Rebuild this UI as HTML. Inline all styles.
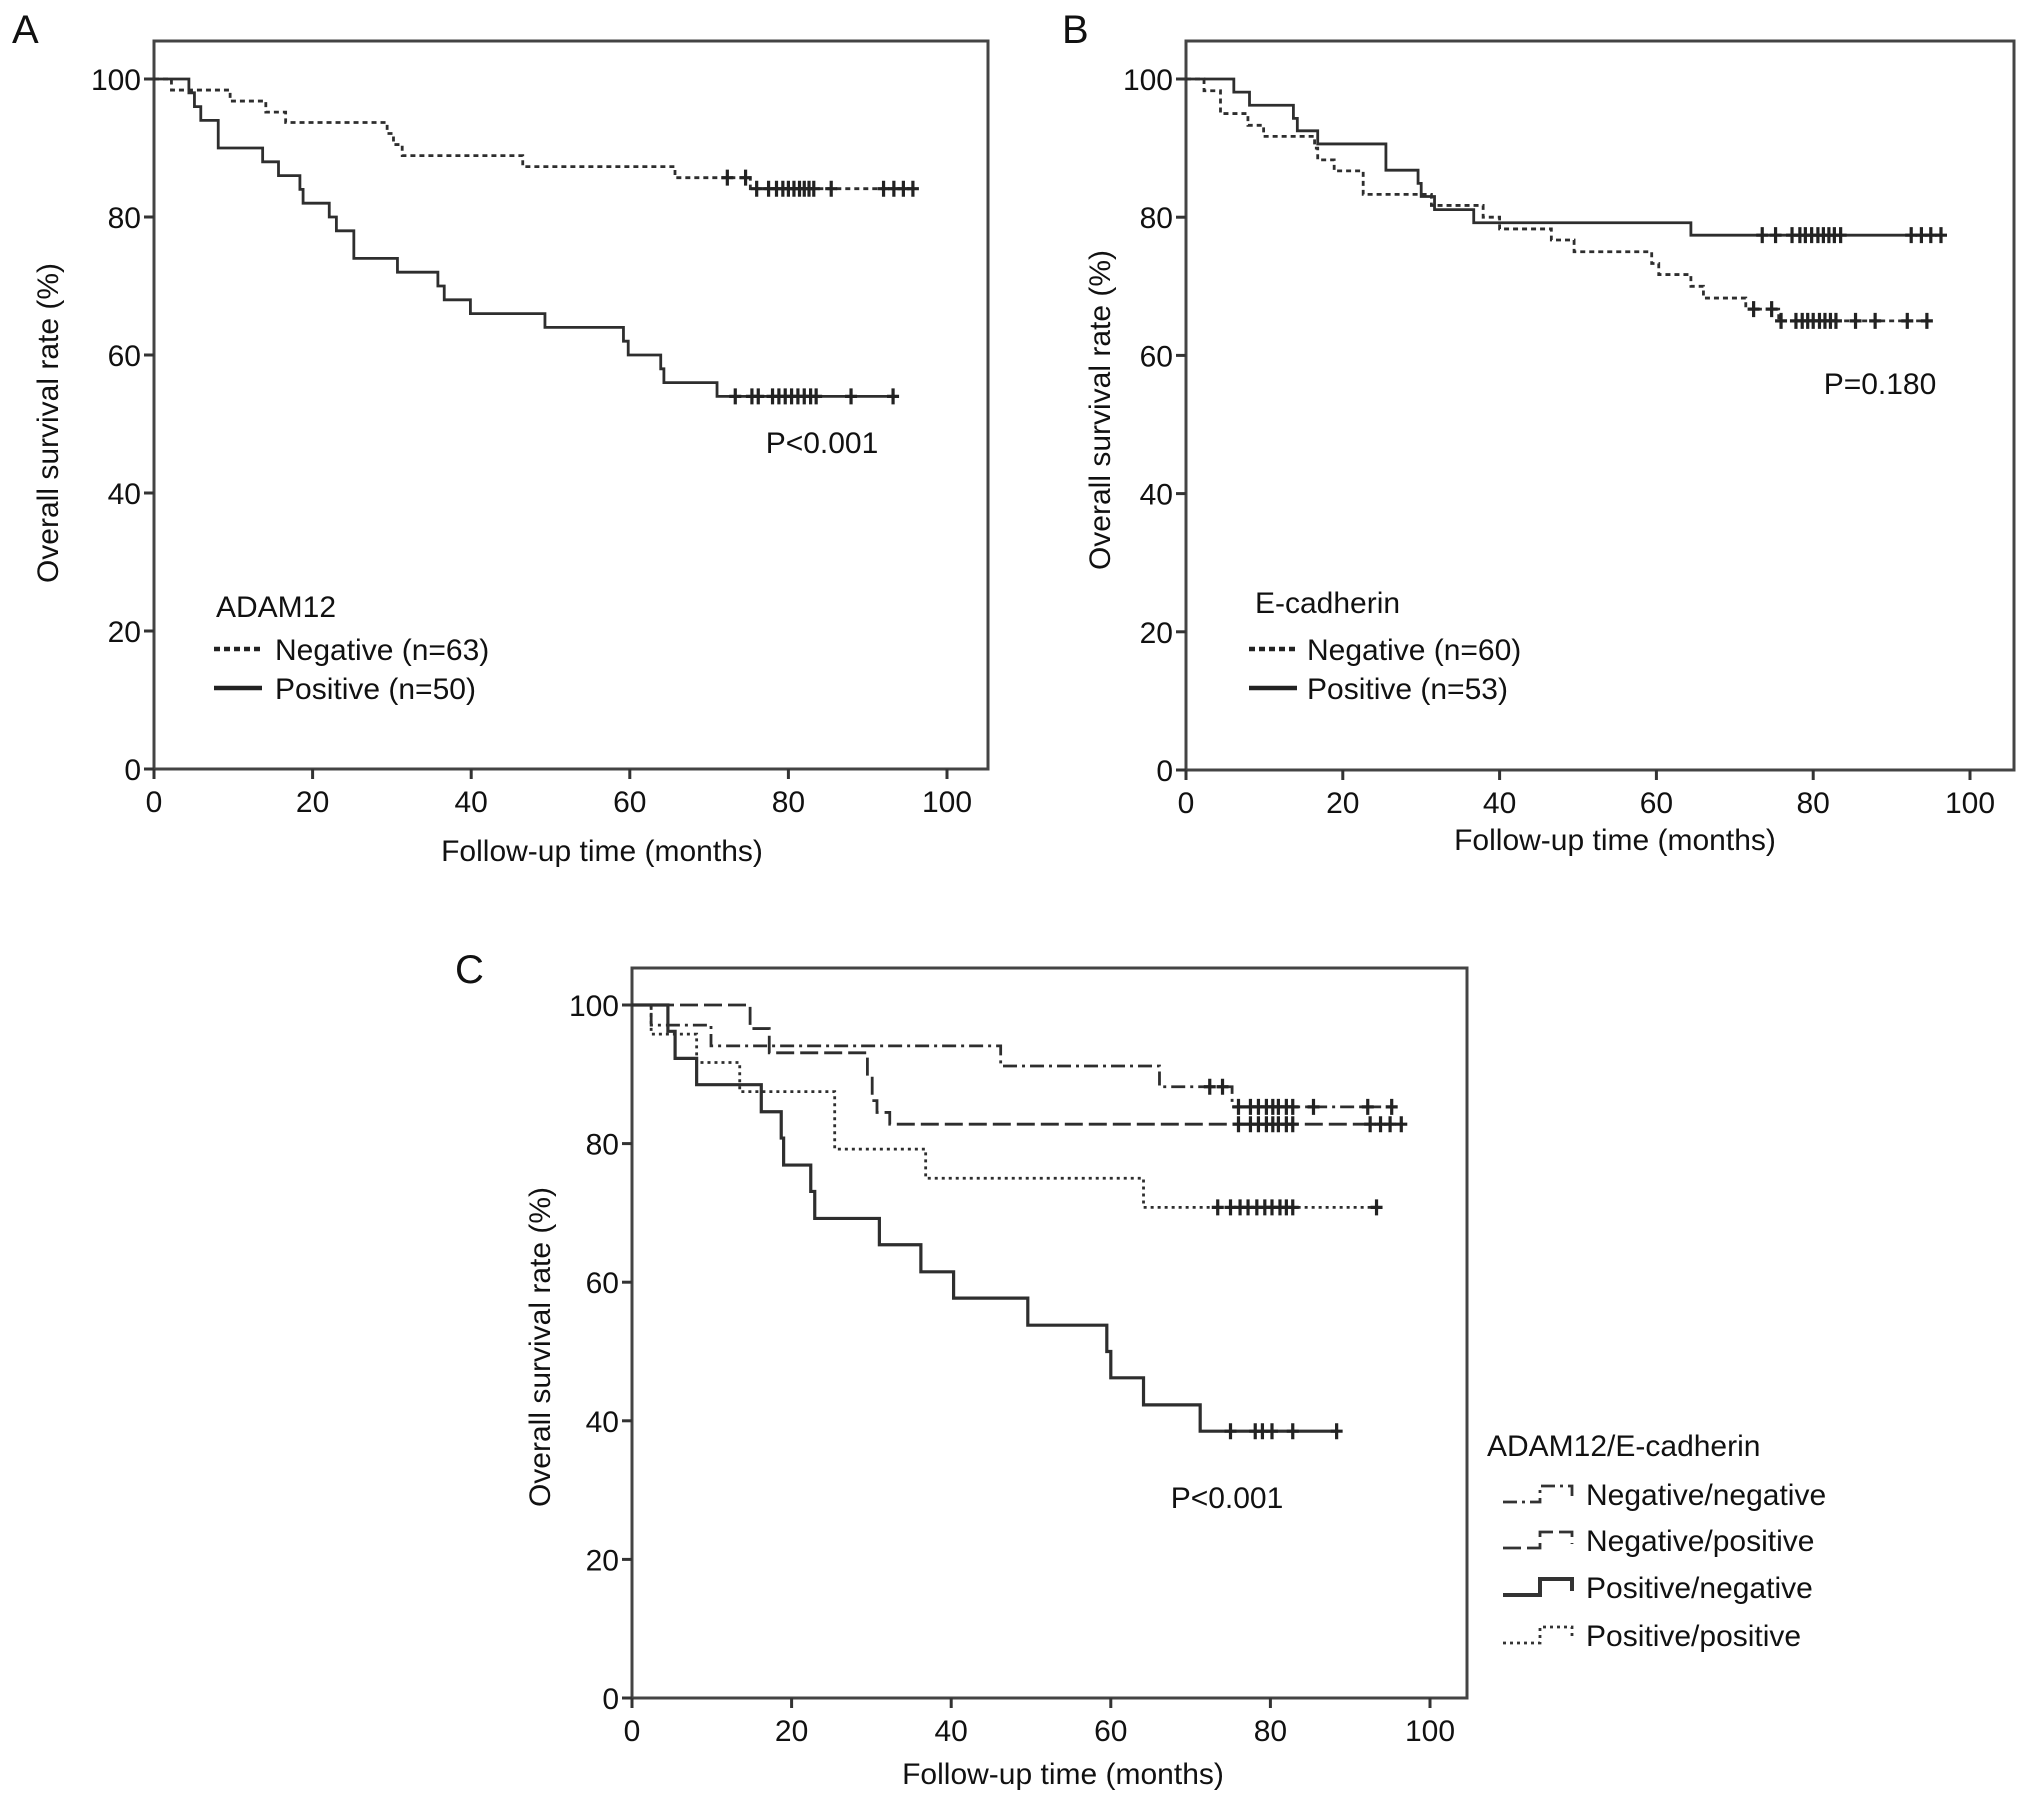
<!DOCTYPE html>
<html><head><meta charset="utf-8">
<style>
html,body{margin:0;padding:0;background:#fff;}
svg{display:block;font-family:"Liberation Sans",Arial,sans-serif;}
</style></head>
<body>
<svg id="fig" width="2032" height="1798" viewBox="0 0 2032 1798"></svg>
<script>
const xTicks = [0, 20, 40, 60, 80, 100];
const yTicks = [0, 20, 40, 60, 80, 100];
// Panel A: ADAM12
const aNegT = [2.2, 9.6, 14.1, 16.6, 29.4, 30.2, 31.3, 46.5, 65.7, 75.2];
const aNegS = [98.4, 96.8, 95.2, 93.7, 92.1, 90.5, 88.9, 87.3, 85.7, 84.1];
const aNegEnd = 96;
const aNegC = [72.3, 74.6, 76, 77.5, 78.5, 79.3, 80, 80.7, 81.4, 82, 82.6, 83.2, 85.4, 92, 93.3, 94.5, 95.7];
const aPosT = [4.4, 5.1, 5.9, 8.1, 13.7, 15.7, 18.4, 18.8, 22.1, 23, 25.2, 30.7, 35.8, 36.6, 39.9, 49.3, 59.2, 59.8, 63.9, 64.3, 71];
const aPosS = [98, 96, 94, 90, 88, 86, 84, 82, 80, 78, 74, 72, 70, 68, 66, 64, 62, 60, 58, 56, 54];
const aPosEnd = 93.2;
const aPosC = [73.3, 75.4, 76.2, 78, 78.8, 79.6, 80.4, 81.2, 82, 82.8, 83.5, 87.9, 93.2];
// Panel B: E-cadherin
const bNegT = [2.3, 4.4, 7.9, 9.9, 16.4, 16.8, 18.9, 22.6, 31.3, 37.9, 40, 46.6, 49.5, 59.4, 60.3, 64.4, 66, 71.4, 75.6];
const bNegS = [98.3, 95, 93.3, 91.7, 90, 88.3, 86.7, 83.3, 81.7, 80, 78.3, 76.7, 75, 73.3, 71.7, 70, 68.3, 66.7, 65];
const bNegEnd = 95.3;
const bNegC = [72.4, 74.7, 75.9, 77.8, 78.6, 79.3, 80, 80.8, 81.5, 82.2, 82.9, 85.4, 87.9, 92, 94.5];
const bPosT = [6.1, 8.1, 13.7, 14.2, 16.8, 25.5, 29.6, 30, 31.7, 36.7, 64.4];
const bPosS = [98.1, 96.2, 94.3, 92.5, 90.6, 86.8, 84.9, 83, 81.1, 79.2, 77.4];
const bPosEnd = 96.3;
const bPosC = [73.5, 75.2, 77.3, 78.3, 79, 79.8, 80.6, 81.3, 82, 82.7, 83.5, 92.5, 93.8, 95, 96.3];
// Panel C: combined groups
const nnT = [2.4, 9.9, 46.2, 66.1, 75.2];
const nnS = [97.1, 94.1, 91.2, 88.2, 85.3];
const nnEnd = 95.2;
const nnC = [72.4, 74, 76, 77.5, 78.5, 79.5, 80.3, 81, 82, 82.8, 85.4, 92.2, 95.2];
const npT = [14.8, 17.2, 29.5, 30.1, 30.7, 32.3];
const npS = [96.6, 93.1, 89.7, 86.2, 84.5, 82.8];
const npEnd = 96.4;
const npC = [76, 77.5, 78.5, 79.5, 80.3, 81, 82, 82.8, 92.5, 93.8, 95, 96.4];
const pnT = [4.5, 5.4, 8.1, 16.2, 18.7, 19, 22.4, 22.9, 31, 36.2, 40.3, 49.6, 59.5, 60, 64.1, 71.2];
const pnS = [96.2, 92.3, 88.5, 84.6, 80.8, 76.9, 73.1, 69.2, 65.4, 61.5, 57.7, 53.8, 50, 46.2, 42.3, 38.5];
const pnEnd = 88.3;
const pnC = [75, 78.1, 79, 80.2, 82.8, 88.3];
const ppT = [2.4, 8.1, 13.5, 25.4, 36.8, 64.1];
const ppS = [95.8, 91.7, 87.5, 79.2, 75, 70.8];
const ppEnd = 93.3;
const ppC = [73.4, 75, 76.2, 77.2, 78.3, 79.3, 80.2, 81.2, 82, 82.8, 93.3];

const NS = "http://www.w3.org/2000/svg";
const svg = document.getElementById("fig");
const INK = "#2e2e2e";
const FS = 30;

function el(tag, attrs, parent) {
  const e = document.createElementNS(NS, tag);
  for (const k in attrs) e.setAttribute(k, attrs[k]);
  (parent || svg).appendChild(e);
  return e;
}
function txt(str, x, y, size, anchor, parent) {
  const t = el("text", {x: x, y: y, "font-size": size, "text-anchor": anchor || "start", fill: "#111"}, parent);
  t.textContent = str;
  return t;
}

function makePanel(p) {
  const g = el("g", {});
  
  
  const X = m => p.x0 + (p.x100 - p.x0) * m / 100;
  const Y = v => p.y0 - (p.y0 - p.y100) * v / 100;
  const frame = el("rect", {x: p.fl, y: p.ft, width: p.fr - p.fl, height: p.y0 - p.ft, fill: "none", stroke: "#444", "stroke-width": 3}, g);
  
  
  xTicks.forEach(v => {
    const tk = el("line", {x1: X(v), x2: X(v), y1: p.y0, y2: p.y0 + 10, stroke: "#333", "stroke-width": 3}, g);
    
    
    const lb = txt(String(v), X(v), p.y0 + 43, FS, "middle", g);
    
    
  });
  yTicks.forEach(v => {
    const tk = el("line", {x1: p.fl - 10, x2: p.fl, y1: Y(v), y2: Y(v), stroke: "#333", "stroke-width": 3}, g);
    
    
    const lb = txt(String(v), p.fl - 13, Y(v) + 11, FS, "end", g);
    
    
  });
  const xt = txt("Follow-up time (months)", p.xtX, p.xtY, FS, "middle", g);
  
  
  const yt = txt("Overall survival rate (%)", 0, 0, FS, "middle", g);
  yt.setAttribute("transform", "translate(" + p.ytX + "," + p.ytY + ") rotate(-90)");
  
  
  const letter = txt(p.letter, p.lx, p.ly, 40, "start", g);
  
  
  const pv = txt(p.pval, p.px, p.py, FS, "middle", g);
  
  
  return {g: g, X: X, Y: Y};
}

function survAt(T, S, t) {
  let s = 100;
  for (let i = 0; i < T.length; i++) if (T[i] <= t) s = S[i];
  return s;
}

function drawKM(ax, T, S, end, C, style, name) {
  let d = "M" + ax.X(0) + "," + ax.Y(100);
  for (let i = 0; i < T.length; i++) {
    d += " H" + ax.X(T[i]) + " V" + ax.Y(S[i]);
  }
  d += " H" + ax.X(end);
  const attrs = {d: d, fill: "none", stroke: INK, "stroke-width": style.w || 2.8};
  if (style.dash) attrs["stroke-dasharray"] = style.dash;
  const path = el("path", attrs, ax.g);
  
  
  C.forEach(t => {
    const cx = ax.X(t), cy = ax.Y(survAt(T, S, t));
    const m = el("path", {d: "M" + cx + "," + (cy - 8) + " V" + (cy + 8) + " M" + (cx - 6) + "," + cy + " H" + (cx + 6), stroke: "#222", "stroke-width": 3.2}, ax.g);
    
    
  });
}

function legendLine(parent, x1, x2, y, style, name) {
  const attrs = {x1: x1, x2: x2, y1: y, y2: y, stroke: "#222", "stroke-width": style.w || 4.5};
  if (style.dash) attrs["stroke-dasharray"] = style.dash;
  const l = el("line", attrs, parent);
  
  
}

const DOT = {dash: "5 4", w: 2.8};
const SOLID = {w: 2.8};

// Panel A
const A = makePanel({name: "panel-a", letter: "A", lx: 12, ly: 43, x0: 154, x100: 947, y0: 769, y100: 79,
  fl: 154, fr: 988, ft: 41, xtX: 602, xtY: 861, ytX: 58, ytY: 423, pval: "P<0.001", px: 822, py: 453});
drawKM(A, aNegT, aNegS, aNegEnd, aNegC, DOT, "adam12-negative");
drawKM(A, aPosT, aPosS, aPosEnd, aPosC, SOLID, "adam12-positive");
{
  const lg = el("g", {}, A.g);
  
  
  const t0 = txt("ADAM12", 216, 617, FS, "start", lg);
  
  
  legendLine(lg, 214, 262, 649, {dash: "6 4", w: 4.5}, "legend-symbol-negative");
  const t1 = txt("Negative (n=63)", 275, 660, FS, "start", lg);
  
  
  legendLine(lg, 214, 262, 688, {w: 4.5}, "legend-symbol-positive");
  const t2 = txt("Positive (n=50)", 275, 699, FS, "start", lg);
  
  
}

// Panel B
const B = makePanel({name: "panel-b", letter: "B", lx: 1062, ly: 43, x0: 1186, x100: 1970, y0: 770, y100: 79,
  fl: 1186, fr: 2014, ft: 41, xtX: 1615, xtY: 850, ytX: 1110, ytY: 410, pval: "P=0.180", px: 1880, py: 394});
drawKM(B, bNegT, bNegS, bNegEnd, bNegC, DOT, "ecadherin-negative");
drawKM(B, bPosT, bPosS, bPosEnd, bPosC, SOLID, "ecadherin-positive");
{
  const lg = el("g", {}, B.g);
  
  
  const t0 = txt("E-cadherin", 1255, 613, FS, "start", lg);
  
  
  legendLine(lg, 1249, 1297, 649, {dash: "6 4", w: 4.5}, "legend-symbol-negative");
  const t1 = txt("Negative (n=60)", 1307, 660, FS, "start", lg);
  
  
  legendLine(lg, 1249, 1297, 688, {w: 4.5}, "legend-symbol-positive");
  const t2 = txt("Positive (n=53)", 1307, 699, FS, "start", lg);
  
  
}

// Panel C
const Cp = makePanel({name: "panel-c", letter: "C", lx: 455, ly: 983, x0: 632, x100: 1430, y0: 1698, y100: 1005,
  fl: 632, fr: 1467, ft: 968, xtX: 1063, xtY: 1784, ytX: 550, ytY: 1347, pval: "P<0.001", px: 1227, py: 1508});
const NN = {dash: "14 5 3 5", w: 2.8};
const NP = {dash: "18 6", w: 2.8};
const PN = {w: 3.2};
const PP = {dash: "3 4", w: 2.8};
drawKM(Cp, nnT, nnS, nnEnd, nnC, NN, "negative-negative");
drawKM(Cp, npT, npS, npEnd, npC, NP, "negative-positive");
drawKM(Cp, ppT, ppS, ppEnd, ppC, PP, "positive-positive");
drawKM(Cp, pnT, pnS, pnEnd, pnC, PN, "positive-negative");
{
  const lg = el("g", {}, Cp.g);
  
  
  const t0 = txt("ADAM12/E-cadherin", 1487, 1456, FS, "start", lg);
  
  
  const names = ["Negative/negative", "Negative/positive", "Positive/negative", "Positive/positive"];
  const styles = [NN, NP, {w: 4}, PP];
  const ys = [1494, 1540, 1587, 1635];
  names.forEach((n, i) => {
    const y = ys[i];
    const s = styles[i];
    const attrs = {d: "M1503," + (y + 8) + " H1540 V" + (y - 8) + " H1572 V" + (y + 4), fill: "none", stroke: "#333", "stroke-width": s.w || 2.8};
    if (s.dash) attrs["stroke-dasharray"] = s.dash;
    const sym = el("path", attrs, lg);
    
    
    const t = txt(n, 1586, y + 11, FS, "start", lg);
    
    
  });
}
</script>
</body></html>
